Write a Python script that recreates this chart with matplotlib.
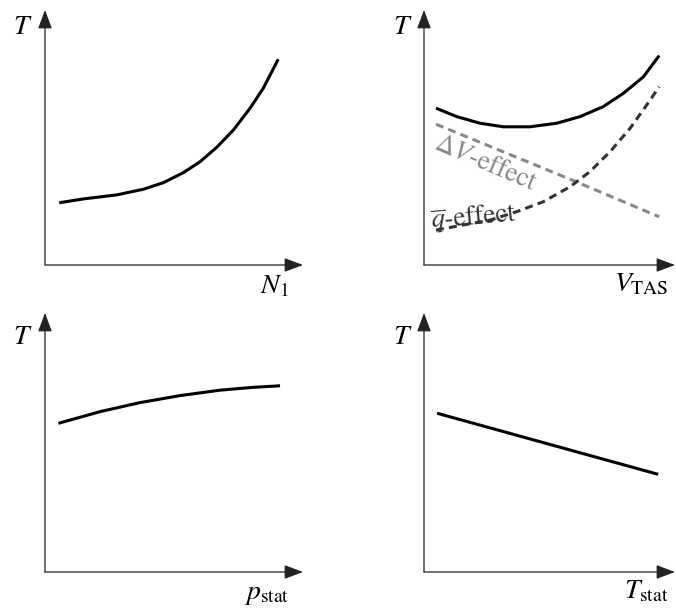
import matplotlib
matplotlib.use("Agg")
import matplotlib.pyplot as plt

plt.rcParams['font.family'] = ['STIXGeneral', 'DejaVu Serif']
plt.rcParams['mathtext.fontset'] = 'stix'

# Panel 1: thrust vs N1
n1_x = [0.55, 1.48, 2.78, 3.81, 4.59, 5.36, 6.01, 6.66, 7.30, 7.95, 8.46, 9.04]
n1_y = [2.44, 2.59, 2.75, 2.97, 3.23, 3.62, 4.05, 4.62, 5.29, 6.15, 6.93, 8.07]

# Panel 2: thrust vs V_TAS
v_x = [0.48, 1.30, 2.23, 3.16, 4.22, 5.29, 6.22, 7.14, 7.94, 8.74, 9.37]
v_y = [6.15, 5.82, 5.56, 5.42, 5.42, 5.56, 5.82, 6.21, 6.73, 7.38, 8.21]
dv_x = [0.48, 6.05, 9.37]
dv_y = [5.52, 3.27, 1.89]
q_x = [0.48, 1.57, 2.63, 3.69, 4.75, 5.82, 6.61, 7.41, 8.21, 8.87, 9.37]
q_y = [1.37, 1.57, 1.76, 2.09, 2.48, 3.07, 3.66, 4.44, 5.36, 6.27, 6.99]

# Panel 3: thrust vs p_stat
p_x = [0.52, 2.13, 3.68, 5.23, 6.78, 8.07, 9.11]
p_y = [5.74, 6.19, 6.54, 6.81, 7.02, 7.13, 7.19]

# Panel 4: thrust vs T_stat
t_x = [0.52, 9.33]
t_y = [6.13, 3.77]

xlabels = [r'$N_1$', r'$V_{\mathrm{TAS}}$', r'$p_{\mathrm{stat}}$', r'$T_{\mathrm{stat}}$']
ylabel = r'$T$'

W, H = 676, 615
fig = plt.figure(figsize=(W / 100, H / 100), dpi=100)

# panel rectangles in pixels: (origin_x, origin_y, tip_x, tip_y)
rects = [(45, 265, 303, 10), (424, 265, 675, 10),
         (45, 572, 303, 313), (424, 572, 675, 313)]
xlab_pos = [(0.89, -0.086), (0.865, -0.075), (0.857, -0.085), (0.884, -0.077)]
ylab_pos = [(-0.085, 0.93), (-0.084, 0.93), (-0.085, 0.907), (-0.084, 0.907)]

axes = []
for i, (ox, oy, tx, ty) in enumerate(rects):
    ax = fig.add_axes([ox / W, (H - oy) / H, (tx - ox) / W, (oy - ty) / H])
    ax.set_xlim(0, 10)
    ax.set_ylim(0, 10)
    ax.axis('off')
    ap = dict(arrowstyle='-|>,head_length=1.15,head_width=0.43',
              mutation_scale=10, lw=0.9, color='#222222',
              shrinkA=0, shrinkB=0)
    ax.annotate('', xy=(1, 0), xytext=(0, 0), xycoords='axes fraction',
                textcoords='axes fraction', arrowprops=ap, annotation_clip=False)
    ax.annotate('', xy=(0, 1), xytext=(0, 0), xycoords='axes fraction',
                textcoords='axes fraction', arrowprops=ap, annotation_clip=False)
    ax.text(*xlab_pos[i], xlabels[i], transform=ax.transAxes,
            ha='center', va='center', fontsize=20)
    ax.text(*ylab_pos[i], ylabel, transform=ax.transAxes,
            ha='center', va='center', fontsize=20)
    axes.append(ax)

lw = 2.2
axes[0].plot(n1_x, n1_y, color='black', lw=lw, solid_capstyle='butt')
axes[1].plot(v_x, v_y, color='black', lw=lw, solid_capstyle='butt')
axes[1].plot(dv_x, dv_y, color='#888888', lw=lw, dashes=(2.6, 1.7))
axes[1].plot(q_x, q_y, color='#333333', lw=lw, dashes=(2.6, 1.7))
axes[2].plot(p_x, p_y, color='black', lw=lw, solid_capstyle='butt')
axes[3].plot(t_x, t_y, color='black', lw=lw, solid_capstyle='butt')

ax = axes[1]
ax.text(((485 - 424) / 251), ((265 - 163) / 255), r'$\mathit{\Delta V}$-effect',
        transform=ax.transAxes, ha='center', va='center', fontsize=19.5,
        color='#888888', rotation=-23, rotation_mode='anchor')
ax.text(((474 - 424) / 251), ((265 - 218) / 255), r'$\overline{q}$-effect',
        transform=ax.transAxes, ha='center', va='center', fontsize=19.5,
        color='#333333', rotation=5, rotation_mode='anchor')

fig.savefig('out.png', dpi=100)
